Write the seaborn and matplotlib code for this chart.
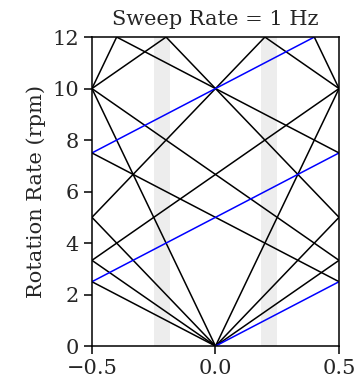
# Aliasing chart: apparent rotation rate vs sweep phase
import numpy as np
import pandas as pd
import matplotlib
matplotlib.use("Agg")
import matplotlib.pyplot as plt
import seaborn as sns

# segments (start x, start y, end x, end y)
black_x0 = [-0.5, 0.0, -0.5, 0.4, -0.5, 0.0, -0.5, -0.2, -0.5, 0.0, -0.5, -0.5, -0.5, 0.2, -0.5, -0.5, -0.4]
black_y0 = [10.0, 0.0, 10.0, 12.0, 5.0, 0.0, 5.0, 12.0, 3.33, 0.0, 3.33, 10.0, 10.0, 12.0, 2.5, 7.5, 12.0]
black_x1 = [0.0, 0.5, -0.4, 0.5, 0.0, 0.5, 0.2, 0.5, 0.0, 0.5, 0.5, 0.5, -0.2, 0.5, 0.0, 0.5, 0.5]
black_y1 = [0.0, 10.0, 12.0, 10.0, 0.0, 5.0, 12.0, 5.0, 0.0, 3.33, 10.0, 3.33, 12.0, 10.0, 0.0, 2.5, 7.5]

blue_x0 = [0.0, -0.5, -0.5]
blue_y0 = [0.0, 2.5, 7.5]
blue_x1 = [0.5, 0.5, 0.4]
blue_y1 = [2.5, 7.5, 12.0]

bands = [(-0.25, -0.185), (0.185, 0.25)]

rows = []
seg = 0
for x0, y0, x1, y1 in zip(black_x0, black_y0, black_x1, black_y1):
    rows.append((seg, "black", x0, y0))
    rows.append((seg, "black", x1, y1))
    seg += 1
for x0, y0, x1, y1 in zip(blue_x0, blue_y0, blue_x1, blue_y1):
    rows.append((seg, "blue", x0, y0))
    rows.append((seg, "blue", x1, y1))
    seg += 1
df = pd.DataFrame(rows, columns=["seg", "kind", "x", "y"])

sns.set_style("ticks")
plt.rcParams["font.family"] = ["DejaVu Serif"]

fig = plt.figure(figsize=(3.55, 3.82), dpi=100)
ax = fig.add_axes([0.259, 0.094, 0.696, 0.809])

for a, b in bands:
    ax.axvspan(a, b, color="0.93", lw=0, zorder=0)

sns.lineplot(data=df, x="x", y="y", hue="kind", units="seg", estimator=None,
             palette={"black": "black", "blue": "blue"}, lw=1.1,
             legend=False, ax=ax)

ax.set_xlim(-0.5, 0.5)
ax.set_ylim(0, 12)
ax.set_xticks([-0.5, 0.0, 0.5])
ax.set_yticks(range(0, 13, 2))
ax.set_xlabel("")
ax.set_ylabel("Rotation Rate (rpm)", fontsize=15)
ax.set_title("Sweep Rate = 1 Hz", fontsize=15, pad=9)
ax.tick_params(labelsize=15, length=6, width=1.1, color="black")
for s in ax.spines.values():
    s.set_color("black")
    s.set_linewidth(1.1)

fig.savefig("out.png", dpi=100)
